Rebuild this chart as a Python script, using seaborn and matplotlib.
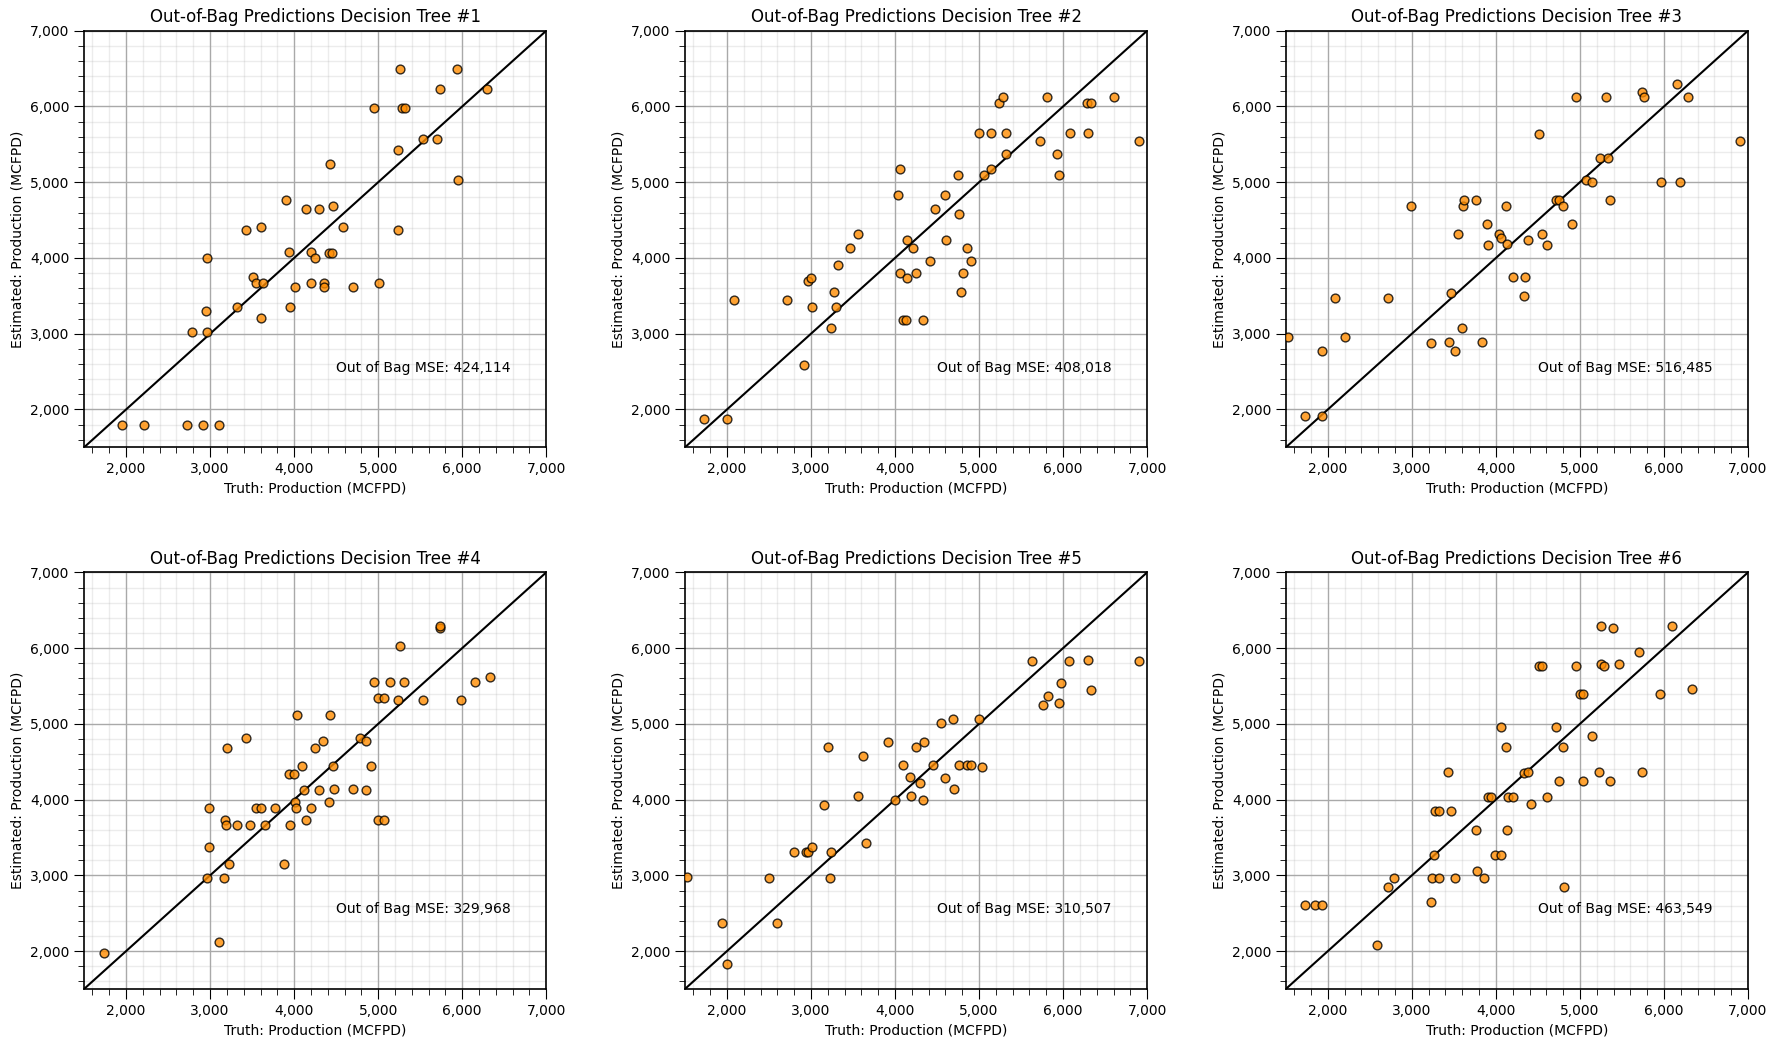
import numpy as np
import pandas as pd
import matplotlib
matplotlib.use("Agg")
import matplotlib.pyplot as plt
import seaborn as sns
from matplotlib.ticker import MultipleLocator, StrMethodFormatter

# Out-of-bag truth / estimate pairs
truth1 = [1950, 2215, 2720, 2915, 3110, 2790, 2960, 2955, 2960, 3320, 3430, 3610, 3515, 3550,
          3625, 3600, 3900, 3940, 3950, 4010, 4140, 4295, 4195, 4205, 4250, 4360, 4360, 4415,
          4445, 4430, 4465, 4585, 4695, 4955, 5005, 5230, 5240, 5255, 5280, 5315, 5535, 5705,
          5740, 5940, 5950, 6300]
est1 = [1800, 1800, 1800, 1800, 1800, 3025, 3020, 3305, 4005, 3355, 4375, 4415, 3755, 3670,
        3670, 3210, 4760, 4085, 3355, 3620, 4650, 4650, 3675, 4085, 4005, 3675, 3620, 4060,
        4060, 5235, 4680, 4415, 3620, 5975, 3675, 4375, 5430, 6490, 5975, 5975, 5565, 5565,
        6225, 6490, 5035, 6225]

truth2 = [1730, 2005, 2085, 2720, 2920, 2970, 2995, 3015, 3240, 3275, 3300, 3325, 3470, 3555,
          4040, 4065, 4065, 4145, 4145, 4100, 4125, 4210, 4255, 4335, 4420, 4470, 4595, 4610,
          4750, 4765, 4790, 4810, 4855, 4905, 4995, 5060, 5145, 5145, 5240, 5290, 5315, 5325,
          5725, 5810, 5925, 5955, 6085, 6285, 6335, 6300, 6600, 6905]
est2 = [1880, 1880, 3440, 3440, 2590, 3690, 3730, 3355, 3080, 3555, 3355, 3910, 4135, 4310,
        4825, 5180, 3805, 4235, 3730, 3185, 3185, 4135, 3805, 3185, 3955, 4640, 4825, 4235,
        5100, 4585, 3555, 3805, 4135, 3955, 5645, 5100, 5180, 5645, 6040, 6130, 5370, 5645,
        5540, 6130, 5370, 5100, 5645, 6040, 6040, 5645, 6130, 5540]

truth3 = [1525, 1725, 1925, 1925, 2080, 2200, 2710, 2985, 3225, 3440, 3515, 3465, 3550, 3595,
          3610, 3615, 3760, 3835, 3895, 3905, 4035, 4065, 4120, 4130, 4200, 4335, 4345, 4380,
          4510, 4550, 4610, 4715, 4750, 4795, 4910, 4955, 5070, 5145, 5240, 5330, 5310, 5360,
          5740, 5760, 5965, 6155, 6185, 6285, 6900]
est3 = [2960, 1915, 1915, 2775, 3465, 2960, 3465, 4690, 2880, 2895, 2775, 3540, 4320, 3080,
        4690, 4760, 4760, 2895, 4455, 4175, 4320, 4270, 4690, 4190, 3755, 3500, 3755, 4240,
        5630, 4320, 4175, 4760, 4760, 4690, 4455, 6130, 5035, 5000, 5325, 5325, 6130, 4760,
        6195, 6130, 5000, 6290, 5000, 6130, 5540]

truth4 = [1735, 2960, 2990, 2990, 3110, 3165, 3180, 3190, 3205, 3230, 3325, 3430, 3470, 3550,
          3600, 3655, 3775, 3875, 3940, 4000, 3950, 4010, 4025, 4035, 4095, 4120, 4140, 4195,
          4250, 4295, 4345, 4415, 4430, 4465, 4480, 4695, 4780, 4860, 4860, 4910, 4955, 5000,
          5000, 5065, 5075, 5145, 5240, 5255, 5310, 5535, 5730, 5740, 5980, 6155, 6335]
est4 = [1980, 2965, 3885, 3375, 2125, 2965, 3725, 3660, 4675, 3150, 3660, 4810, 3660, 3885,
        3885, 3660, 3885, 3150, 4340, 4340, 3660, 3970, 3885, 5120, 4440, 4125, 3725, 3885,
        4675, 4125, 4780, 3970, 5120, 4440, 4135, 4135, 4810, 4780, 4125, 4440, 5555, 3725,
        5345, 5345, 3725, 5555, 5315, 6030, 5555, 5315, 6265, 6290, 5315, 5555, 5625]

truth5 = [1520, 1945, 2005, 2495, 2590, 2795, 2945, 2960, 3015, 3160, 3205, 3230, 3240, 3565,
          3620, 3660, 3920, 4000, 4100, 4175, 4195, 4250, 4300, 4335, 4350, 4455, 4550, 4600,
          4695, 4705, 4765, 4860, 4905, 4995, 5040, 5625, 5765, 5815, 5955, 5980, 6075, 6300,
          6335, 6905]
est5 = [2985, 2375, 1825, 2965, 2375, 3305, 3305, 3305, 3375, 3925, 4700, 2965, 3305, 4045,
        4570, 3425, 4755, 4000, 4455, 4305, 4045, 4700, 4215, 4000, 4755, 4455, 5015, 4280,
        5070, 4135, 4455, 4455, 4455, 5070, 4435, 5830, 5250, 5370, 5275, 5545, 5830, 5840,
        5450, 5830]

truth6 = [1725, 1845, 1925, 2585, 2710, 2785, 3225, 3235, 3265, 3275, 3320, 3325, 3430, 3465,
          3515, 3760, 3775, 3855, 3905, 3945, 3995, 4060, 4060, 4120, 4130, 4145, 4205, 4340,
          4385, 4420, 4510, 4550, 4610, 4720, 4750, 4800, 4815, 4955, 5000, 5040, 5040, 5145,
          5230, 5245, 5285, 5250, 5360, 5395, 5465, 5705, 5740, 5955, 6090, 6335]
est6 = [2610, 2610, 2610, 2085, 2845, 2965, 2650, 2965, 3265, 3845, 2965, 3845, 4360, 3845,
        2965, 3600, 3060, 2965, 4040, 4040, 3265, 3265, 4965, 4690, 3600, 4040, 4040, 4345,
        4360, 3940, 5770, 5770, 4040, 4965, 4240, 4690, 2845, 5770, 5395, 5395, 4240, 4845,
        4360, 5790, 5770, 6290, 4240, 6265, 5790, 5950, 4360, 5395, 6290, 5465]

mse = [424114, 408018, 516485, 329968, 310507, 463549]

truths = [truth1, truth2, truth3, truth4, truth5, truth6]
ests = [est1, est2, est3, est4, est5, est6]

xmin, xmax = 1500, 7000

fig, axes = plt.subplots(2, 3, figsize=(17.77, 10.48), dpi=100)
fig.subplots_adjust(left=0.0473, right=0.9837, top=0.9707, bottom=0.0563,
                    wspace=0.3, hspace=0.3)

for i, ax in enumerate(axes.flat):
    df = pd.DataFrame({"truth": truths[i], "est": ests[i]})
    sns.scatterplot(data=df, x="truth", y="est", ax=ax, color="darkorange",
                    edgecolor="black", linewidth=1, s=40, alpha=0.8, zorder=10)
    ax.plot([xmin, xmax], [xmin, xmax], color="black", linewidth=1.5, zorder=5)
    ax.set_xlim(xmin, xmax)
    ax.set_ylim(xmin, xmax)
    ax.set_title(f"Out-of-Bag Predictions Decision Tree #{i + 1}", fontsize=12)
    ax.set_xlabel("Truth: Production (MCFPD)")
    ax.set_ylabel("Estimated: Production (MCFPD)")
    ax.text(4500, 2500, f"Out of Bag MSE: {mse[i]:,}", fontsize=10)

    for axis in (ax.xaxis, ax.yaxis):
        axis.set_major_locator(MultipleLocator(1000))
        axis.set_minor_locator(MultipleLocator(200))
        axis.set_major_formatter(StrMethodFormatter("{x:,.0f}"))
    ax.tick_params(which="major", length=7)
    ax.tick_params(which="minor", length=4)
    ax.grid(which="major", color="darkgray", linewidth=1)
    # translucent minor grid so it does not lighten the major lines it crosses
    ax.grid(which="minor", color="darkgray", alpha=0.22, linewidth=1)
    ax.set_axisbelow(True)
    for sp in ax.spines.values():
        sp.set_linewidth(1.2)

plt.savefig("out.png", dpi=100)
